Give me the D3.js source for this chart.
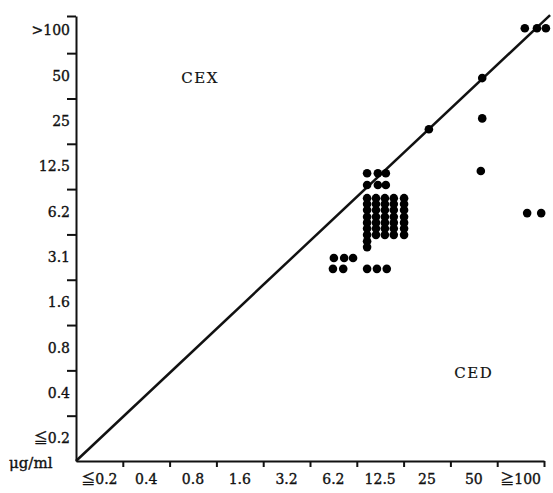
<!DOCTYPE html>
<html>
<head>
<meta charset="utf-8">
<script src="https://cdn.jsdelivr.net/npm/d3@7"></script>
<style>
  body { margin: 0; background: #fff; }
  text { font-family: "DejaVu Serif", "Noto Sans CJK JP", "Liberation Serif", serif; fill: #111; stroke: #111; stroke-width: 0.35px; }
</style>
</head>
<body>
<div id="container"></div>
<script>
// MIC categories (ug/ml), one per band on each axis
const xLabels = ['≦0.2', '0.4', '0.8', '1.6', '3.2', '6.2', '12.5', '25', '50', '≧100'];
const yLabels = ['≦0.2', '0.4', '0.8', '1.6', '3.1', '6.2', '12.5', '25', '50', '>100'];

// strains, in band units (0 = left/bottom edge of first band)
const strainsX = [
  6.22, 6.45, 6.62, 6.22, 6.45, 6.62,
  6.22, 6.41, 6.60, 6.79, 7.01,
  6.22, 6.41, 6.60, 6.79, 7.01,
  6.22, 6.41, 6.60, 6.79, 7.01,
  6.22, 6.41, 6.60, 6.79, 7.01,
  6.22, 6.41, 6.60, 6.79, 7.01,
  6.22, 6.41, 6.60, 6.79, 7.01,
  6.22, 6.41, 6.60, 6.79, 7.01,
  6.22, 6.22,
  5.51, 5.73, 5.92, 5.49, 5.71, 6.22, 6.43, 6.64,
  7.54, 8.68, 8.68, 8.65, 9.64, 9.94, 9.59, 9.85, 10.04
];
const strainsY = [
  6.35, 6.35, 6.35, 6.09, 6.09, 6.09,
  5.80, 5.80, 5.80, 5.80, 5.80,
  5.67, 5.67, 5.67, 5.67, 5.67,
  5.54, 5.54, 5.54, 5.54, 5.54,
  5.39, 5.39, 5.39, 5.39, 5.39,
  5.26, 5.26, 5.26, 5.26, 5.26,
  5.13, 5.13, 5.13, 5.13, 5.13,
  4.99, 4.99, 4.99, 4.99, 4.99,
  4.85, 4.72,
  4.48, 4.48, 4.48, 4.24, 4.24, 4.24, 4.24, 4.24,
  7.32, 8.45, 7.56, 6.40, 5.47, 5.47, 9.55, 9.55, 9.55
];

// line of equal MIC
const diagonalX = [0, 10.13];
const diagonalY = [0, 9.84];

const regionLabels = ['CEX', 'CED'];
const regionX = [2.65, 8.5];
const regionY = [8.45, 1.95];

const width = 553, height = 493;
const yTop = 9.82;

const svg = d3.select('#container')
  .append('svg')
  .attr('width', width)
  .attr('height', height);

const x = d3.scaleLinear().domain([0, 10]).range([76, 544]);
const y = d3.scaleLinear().domain([0, yTop]).range([461, 16]);

// axes
svg.append('g')
  .attr('transform', `translate(0,${y(0)})`)
  .call(d3.axisBottom(x).tickValues(d3.range(1, 11)).tickSize(6).tickSizeOuter(0).tickFormat(''));
svg.append('g')
  .attr('transform', `translate(${x(0)},0)`)
  .call(d3.axisLeft(y).tickValues(d3.range(1, 10).concat([yTop])).tickSize(9).tickSizeOuter(0).tickFormat(''));
svg.selectAll('.domain, .tick line')
  .attr('stroke', '#111')
  .attr('stroke-width', 2);

// band labels
svg.append('g')
  .selectAll('text')
  .data(xLabels)
  .join('text')
  .attr('x', (d, i) => x(i + 0.5))
  .attr('y', 484)
  .attr('text-anchor', 'middle')
  .attr('font-size', 14)
  .text(d => d);

// top band is cut short by the axis end, so its label sits higher
svg.append('g')
  .selectAll('text')
  .data(yLabels)
  .join('text')
  .attr('x', 70)
  .attr('y', (d, i) => i === 9 ? 35 : y(i + 0.5) + 5)
  .attr('text-anchor', 'end')
  .attr('font-size', 14)
  .text(d => d);

svg.append('text')
  .attr('x', 9)
  .attr('y', 468)
  .attr('font-size', 15)
  .text('μg/ml');

// diagonal
const line = d3.line()
  .x(d => x(d[0]))
  .y(d => y(d[1]));
svg.append('path')
  .datum(d3.zip(diagonalX, diagonalY))
  .attr('fill', 'none')
  .attr('stroke', '#111')
  .attr('stroke-width', 2.5)
  .attr('d', line);

// strains
svg.append('g')
  .selectAll('circle')
  .data(d3.zip(strainsX, strainsY))
  .join('circle')
  .attr('cx', d => x(d[0]))
  .attr('cy', d => y(d[1]))
  .attr('r', 4.3)
  .attr('fill', '#000');

svg.append('g')
  .selectAll('text')
  .data(regionLabels)
  .join('text')
  .attr('x', (d, i) => x(regionX[i]))
  .attr('y', (d, i) => y(regionY[i]) + 5)
  .attr('text-anchor', 'middle')
  .attr('font-size', 15)
  .attr('letter-spacing', 1.5)
  .style('stroke-width', '0.2px')
  .text(d => d);
</script>
</body>
</html>
